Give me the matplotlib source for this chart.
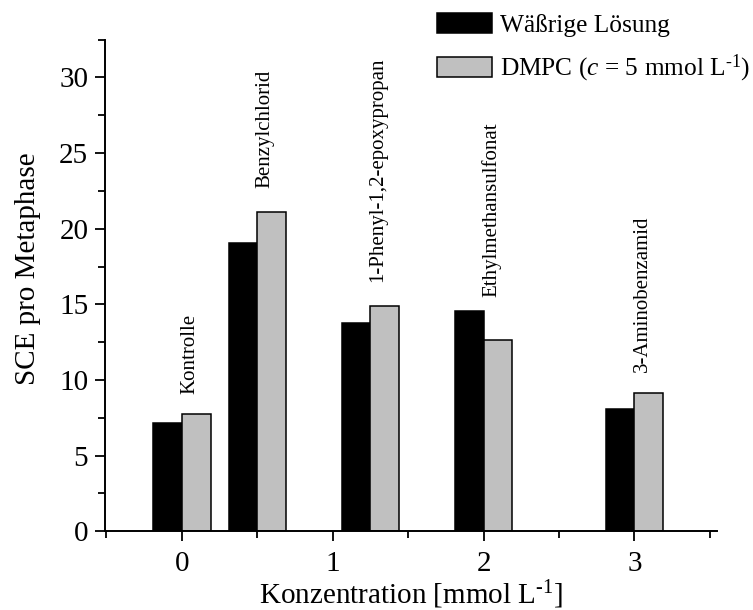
import matplotlib
matplotlib.use('Agg')
import matplotlib.pyplot as plt
from matplotlib.ticker import MultipleLocator

plt.rcParams['font.family'] = ['Liberation Serif', 'DejaVu Serif']
plt.rcParams['mathtext.fontset'] = 'custom'
plt.rcParams['mathtext.rm'] = 'Liberation Serif'
plt.rcParams['mathtext.it'] = 'Liberation Serif:italic'

# Daten
substanzen = ['Kontrolle', 'Benzylchlorid', '1-Phenyl-1,2-epoxypropan',
              'Ethylmethansulfonat', '3-Aminobenzamid']
konzentration = [0, 0.5, 1.25, 2, 3]
waessrig = [7.14, 19.07, 13.79, 14.54, 8.08]
dmpc = [7.77, 21.12, 14.91, 12.66, 9.12]
label_y = [9.1, 22.7, 16.5, 15.5, 10.5]

breite = 0.19

fig = plt.figure(figsize=(7.53, 6.10), dpi=100)
ax = fig.add_axes([0.1394, 0.129, 0.8124, 0.806])

ax.bar([k - breite / 2 for k in konzentration], waessrig, width=breite,
       color='black', edgecolor='black', linewidth=1.1, label='Wäßrige Lösung')
ax.bar([k + breite / 2 for k in konzentration], dmpc, width=breite,
       color='#c0c0c0', edgecolor='black', linewidth=1.1,
       label='DMPC ($c$ = 5 mmol L$^{\\text{-1}}$)')

for k, s, y in zip(konzentration, substanzen, label_y):
    ax.text(k + 0.05, y, s, rotation=90, ha='center', va='bottom', fontsize=15)

ax.set_xlim(-0.51, 3.545)
ax.set_ylim(0, 32.5)
ax.xaxis.set_major_locator(MultipleLocator(1))
ax.xaxis.set_minor_locator(MultipleLocator(0.5))
ax.yaxis.set_major_locator(MultipleLocator(5))
ax.yaxis.set_minor_locator(MultipleLocator(2.5))

for s in ['top', 'right']:
    ax.spines[s].set_visible(False)
for s in ['left', 'bottom']:
    ax.spines[s].set_linewidth(1.4)

ax.tick_params(which='major', direction='out', length=7, width=1.3, labelsize=21, pad=5)
ax.tick_params(which='minor', direction='out', length=4.8, width=1.3)
ax.tick_params(axis='x', which='major', pad=7)

ax.set_xlabel('Konzentration [mmol L$^{\\text{-1}}$]', fontsize=21, labelpad=1)
ax.set_ylabel('SCE pro Metaphase', fontsize=21)
ax.yaxis.set_label_coords(-0.104, 0.535)

fig.legend(loc='upper left', bbox_to_anchor=(0.581, 0.978), frameon=False,
           fontsize=18.3, handlelength=2.16, handleheight=0.8, labelspacing=0.63,
           handletextpad=0.3, borderpad=0, borderaxespad=0)

fig.savefig('out.png', dpi=100)
